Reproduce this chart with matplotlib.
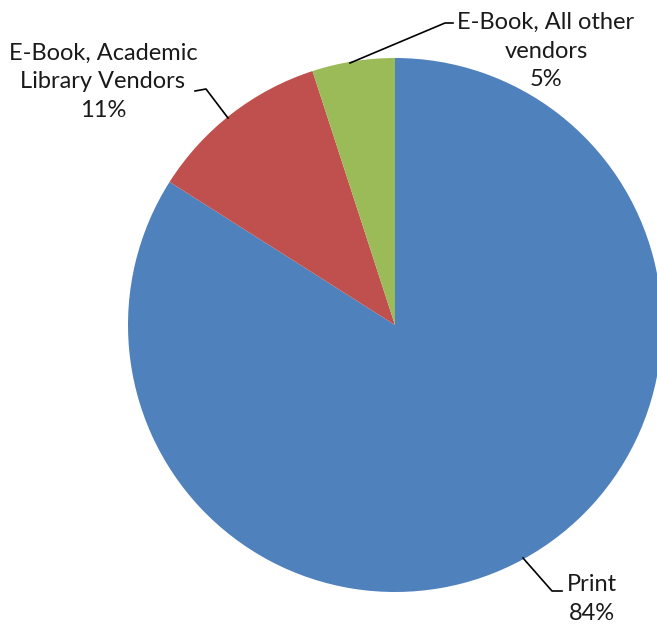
import matplotlib
matplotlib.use("Agg")
import matplotlib.pyplot as plt

labels = ["Print", "E-Book, Academic\nLibrary Vendors", "E-Book, All other\nvendors"]
shares = [84, 11, 5]
colors = ["#4F81BD", "#C0504D", "#9BBB59"]

W, H = 657, 628
fig = plt.figure(figsize=(W / 100, H / 100), dpi=100)
ax = fig.add_axes([0, 0, 1, 1])

cx, cy, r = 395, H - 325, 267
ax.pie(shares, colors=colors, startangle=90, counterclock=False,
       center=(cx, cy), radius=r, frame=True,
       wedgeprops=dict(linewidth=0))
ax.set_xlim(0, W)
ax.set_ylim(0, H)
ax.set_aspect("equal")
ax.axis("off")

font = dict(family=["Lato", "DejaVu Sans"], fontsize=17, color="#1a1a1a",
            ha="center", va="center", linespacing=1.45)

def y(v):
    return H - v

# labels with leader lines
ax.text(103, y(82), f"{labels[1]}\n{shares[1]}%", **font)
ax.plot([195, 206, 228], [y(91), y(89), y(118)], color="black", lw=1.2)

ax.text(546, y(51), f"{labels[2]}\n{shares[2]}%", **font)
ax.plot([453, 445, 350], [y(23), y(23), y(63)], color="black", lw=1.2)

ax.text(592, y(599), f"{labels[0]}\n{shares[0]}%", **font)
ax.plot([523, 552, 562], [y(558), y(591), y(591)], color="black", lw=1.2)

fig.savefig("out.png", dpi=100, facecolor="white")
